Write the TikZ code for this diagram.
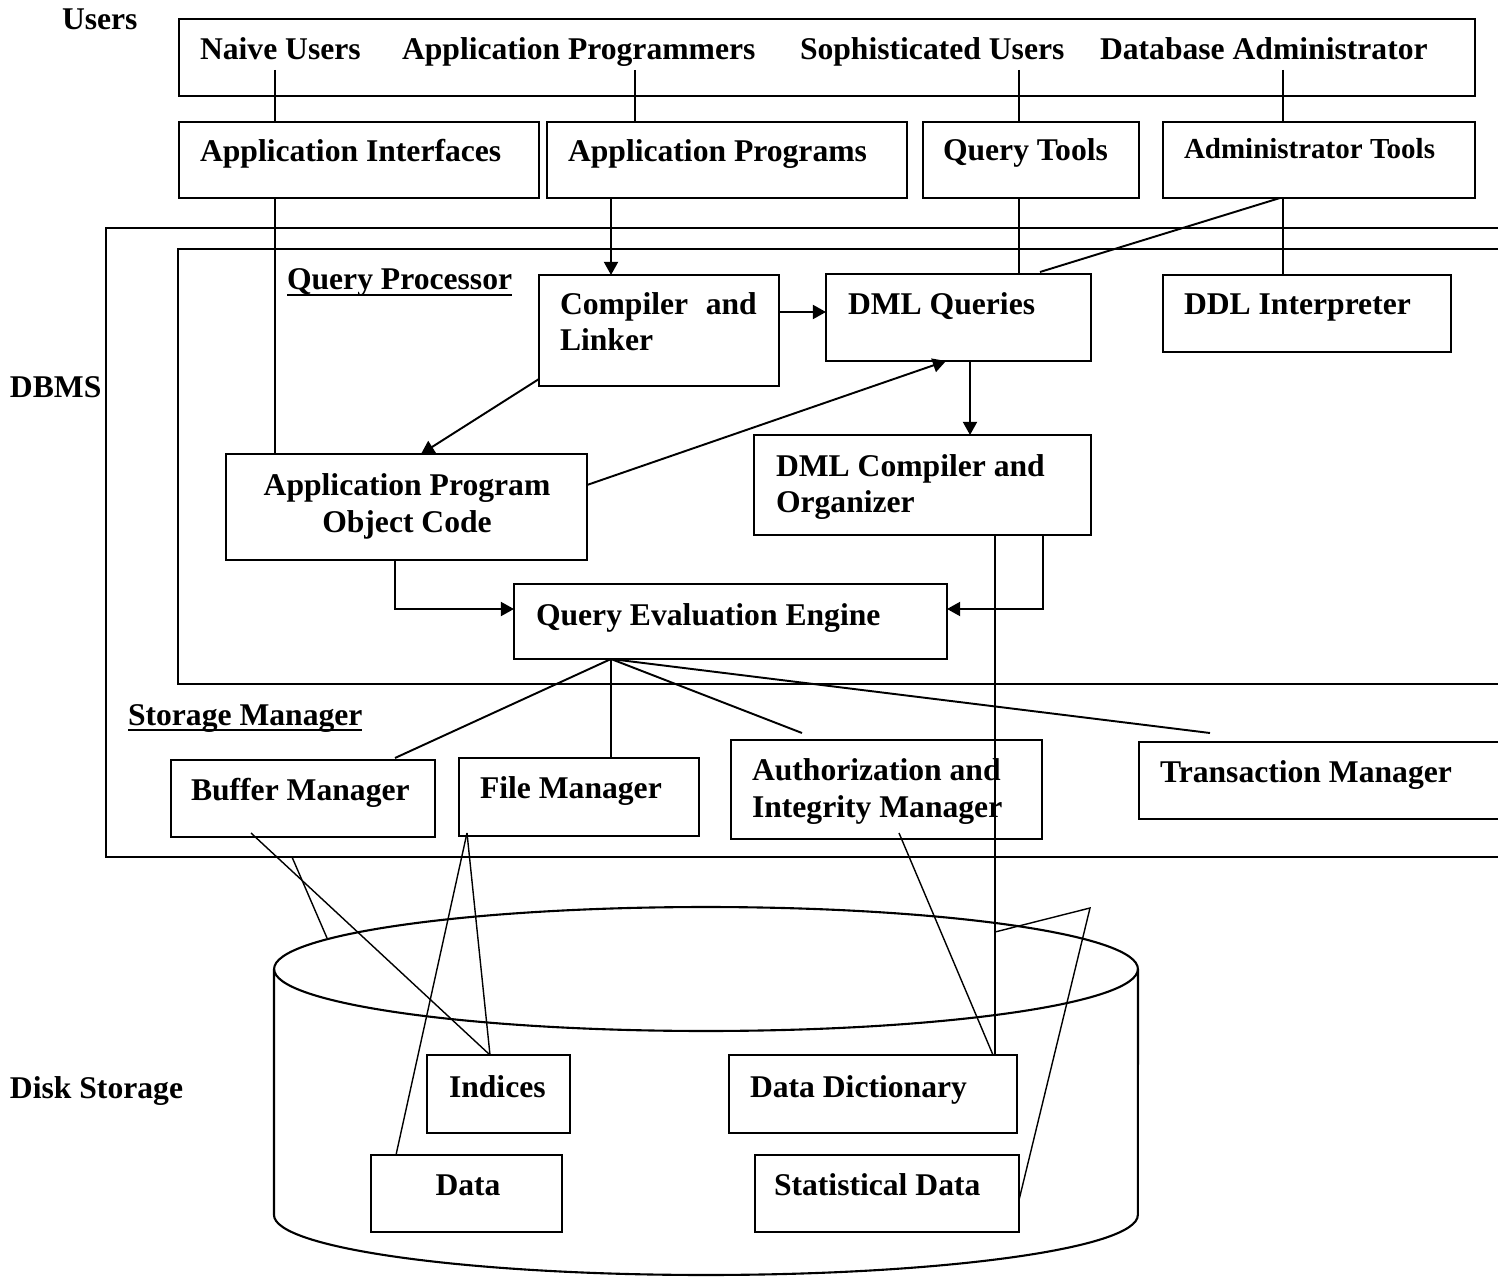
\documentclass[tikz,border=0pt]{standalone}
\usepackage{fontspec}
\setmainfont{Liberation Serif}
\usetikzlibrary{fit,arrows.meta}
\tikzset{
  box/.style={draw, line width=1.2pt, inner sep=0pt, outer sep=0pt},
  txt/.style={inner sep=0pt, outer sep=0pt, anchor=base west,
              font=\bfseries\fontsize{18}{20.7}\selectfont},
  ctxt/.style={txt, anchor=base},
  smalltxt/.style={txt, font=\bfseries\fontsize{16.5}{19}\selectfont},
  conn/.style={line width=1.1pt},
  thin/.style={line width=0.8pt},
  arr/.style={conn, -{Triangle[length=7.5pt,width=8pt]}},
  ul/.style={line width=1.6pt},
  cyl/.style={line width=1.2pt}
}
\begin{document}
\begin{tikzpicture}[x=0.02cm, y=-0.02cm]
\useasboundingbox (0,0) rectangle (1498,1277);
\clip (0,0) rectangle (1498,1277);

% ---------- users ----------
\node[txt] (lusers) at (62,30) {Users};
\node[box, fit={(179,19) (1475,96)}] (users) {};
\node[txt] (tnaive) at (200,60) {Naive Users};
\node[txt] (tprog) at (402,60) {Application Programmers};
\node[txt] (tsoph) at (800,60) {Sophisticated Users};
\node[txt] (tdba) at (1100,60) {Database Administrator};

% ---------- tools ----------
\node[box, fit={(179,122) (539,198)}] (ai) {};
\node[box, fit={(547,122) (907,198)}] (ap) {};
\node[box, fit={(923,122) (1139,198)}] (qt) {};
\node[box, fit={(1163,122) (1475,198)}] (at) {};
\node[txt] (tai) at (200,162) {Application Interfaces};
\node[txt] (tap) at (568,162) {Application Programs};
\node[txt] (tqt) at (943,161) {Query Tools};
\node[smalltxt] (tat) at (1184,159) {Administrator Tools};

% ---------- DBMS and query processor frames ----------
\node[box, fit={(106,228) (1520,857)}] (dbms) {};
\node[box, fit={(178,249) (1520,684)}] (qp) {};
\node[txt] (ldbms) at (10,398) {DBMS};
\node[txt] (lqp) at (287,290) {Query Processor};
\draw[ul] ([yshift=-0.1cm]lqp.base west) -- ([yshift=-0.1cm]lqp.base east);

% ---------- query processor ----------
\node[box, fit={(539,275) (779,386)}] (cl) {};
\node[txt] (tcl1) at (560,315) {Compiler\hspace{10pt}and};
\node[txt] (tcl2) at (560,350) {Linker};
\node[box, fit={(826,274) (1091,361)}] (dq) {};
\node[txt] (tdq) at (848,315) {DML Queries};
\node[box, fit={(1163,275) (1451,352)}] (ddl) {};
\node[txt] (tddl) at (1184,315) {DDL Interpreter};
\node[box, fit={(226,454) (587,560)}] (apo) {};
\node[ctxt] (tapo1) at (407,495) {Application Program};
\node[ctxt] (tapo2) at (407,532) {Object Code};
\node[box, fit={(754,435) (1091,535)}] (dmc) {};
\node[txt] (tdmc1) at (776,476) {DML Compiler and};
\node[txt] (tdmc2) at (776,512) {Organizer};
\node[box, fit={(514,584) (947,659)}] (qee) {};
\node[txt] (tqee) at (536,625) {Query Evaluation Engine};

% ---------- storage manager ----------
\node[txt] (lsm) at (128,725) {Storage Manager};
\draw[ul] ([yshift=-0.1cm]lsm.base west) -- ([yshift=-0.1cm]lsm.base east);
\node[box, fit={(171,760) (435,837)}] (bm) {};
\node[txt] (tbm) at (191,800) {Buffer Manager};
\node[box, fit={(459,758) (699,836)}] (fm) {};
\node[txt] (tfm) at (480,798) {File Manager};
\node[box, fit={(731,740) (1042,839)}] (aim) {};
\node[txt] (taim1) at (752,780) {Authorization and};
\node[txt] (taim2) at (752,817) {Integrity Manager};
\node[box, fit={(1139,742) (1520,819)}] (tm) {};
\node[txt] (ttm) at (1160,782) {Transaction Manager};

% ---------- disk storage ----------
\draw[cyl] (706,969) ellipse [x radius=8.64cm, y radius=1.24cm];
\draw[cyl] (274,969) -- (274,1215)
  arc[start angle=180, end angle=360, x radius=8.64cm, y radius=1.2cm]
  -- (1138,969);
\node[txt] (lds) at (10,1098) {Disk Storage};
\node[box, fit={(427,1055) (570,1133)}] (inx) {};
\node[txt] (tinx) at (449,1097) {Indices};
\node[box, fit={(729,1055) (1017,1133)}] (dd) {};
\node[txt] (tdd) at (750,1097) {Data Dictionary};
\node[box, fit={(371,1155) (562,1232)}] (dat) {};
\node[ctxt] (tdat) at (468,1195) {Data};
\node[box, fit={(755,1155) (1019,1232)}] (sd) {};
\node[txt] (tsd) at (774,1195) {Statistical Data};

% ---------- connector end points ----------
\coordinate (pnaive) at (275,70);
\coordinate (pprog) at (635,70);
\coordinate (psoph) at (1019,70);
\coordinate (pdba) at (1283,70);
\coordinate (pai) at (275,198);
\coordinate (pap) at (611,198);
\coordinate (pqt) at (1019,198);
\coordinate (pat) at (1283,198);
\coordinate (pat2) at (1280,198);
\coordinate (pdqa) at (1040,272);
\coordinate (pcl) at (539,379);
\coordinate (papo) at (421,454);
\coordinate (papor) at (587,485);
\coordinate (pdqb) at (946,361);
\coordinate (pdqd) at (970,361);
\coordinate (papob) at (395,560);
\coordinate (pdmcb) at (1043,535);
\coordinate (pdmcv) at (995,535);
\coordinate (pqee) at (611,659);
\coordinate (pbmt) at (395,758);
\coordinate (paimt) at (802,733);
\coordinate (ptmt) at (1210,733);
\coordinate (pbmb) at (251,833);
\coordinate (pfmb) at (467,833);
\coordinate (paimb) at (899,833);
\coordinate (pinx) at (490,1055);
\coordinate (pdat) at (396,1155);
\coordinate (pdd) at (993,1055);
\coordinate (pstubA) at (292,857);
\coordinate (pstubB) at (327,938);
\coordinate (pvA) at (995,932);
\coordinate (pvB) at (1090,908);
\coordinate (psd) at (1019,1200);

% ---------- connectors ----------
\draw[conn] (pnaive) -- (pnaive |- ai.north);
\draw[conn] (pprog) -- (pprog |- ap.north);
\draw[conn] (psoph) -- (psoph |- qt.north);
\draw[conn] (pdba) -- (pdba |- at.north);
\draw[conn] (pai) -- (pai |- apo.north);
\draw[arr] (pap) -- (pap |- cl.north);
\draw[conn] (pqt) -- (pqt |- dq.north);
\draw[conn] (pat) -- (pat |- ddl.north);
\draw[conn] (pat2) -- (pdqa);
\draw[arr] (cl.east |- 0,312) -- (dq.west |- 0,312);
\draw[arr] (pcl) -- (papo);
\draw[arr] (papor) -- (pdqb);
\draw[arr] (pdqd) -- (pdqd |- dmc.north);
\draw[arr] (papob) -- (395,609) -- (qee.west |- 0,609);
\draw[arr] (pdmcb) -- (1043,609) -- (qee.east |- 0,609);
\draw[conn] (pdmcv) -- (pdmcv |- dd.north);
\draw[conn] (pqee) -- (pbmt);
\draw[conn] (pqee) -- (pqee |- fm.north);
\draw[conn] (pqee) -- (paimt);
\draw[conn] (pqee) -- (ptmt);
\draw[thin] (pbmb) -- (pinx);
\draw[thin] (pstubA) -- (pstubB);
\draw[thin] (pfmb) -- (pinx);
\draw[thin] (pfmb) -- (pdat);
\draw[thin] (paimb) -- (pdd);
\draw[thin] (pvA) -- (pvB) -- (psd);
\end{tikzpicture}
\end{document}
